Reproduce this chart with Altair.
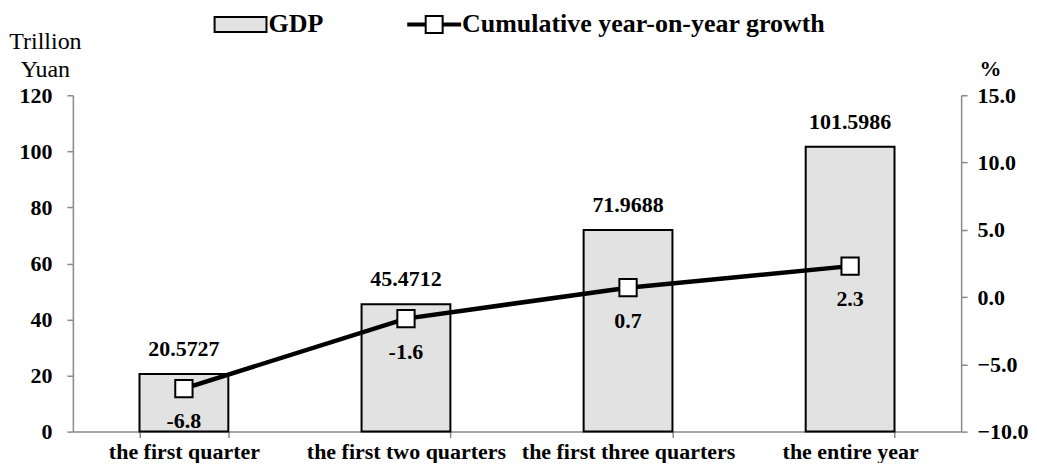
import altair as alt
import pandas as pd

periods = ["the first quarter", "the first two quarters", "the first three quarters", "the entire year"]
gdp = [20.5727, 45.4712, 71.9688, 101.5986]
growth = [-6.8, -1.6, 0.7, 2.3]
gdp_labels = ["20.5727", "45.4712", "71.9688", "101.5986"]
growth_labels = ["-6.8", "-1.6", "0.7", "2.3"]
series = ["GDP", "Cumulative year-on-year growth"]
left_ticks = [0, 20, 40, 60, 80, 100, 120]
right_ticks = [-10, -5, 0, 5, 10, 15]

df = pd.DataFrame({"period": periods, "gdp": gdp, "growth": growth,
                   "gdp_label": gdp_labels, "growth_label": growth_labels})
legend_df = pd.DataFrame({"series": series})

FONT = "Liberation Serif"
AX = "#8a8a8a"
BAR_FILL = "#e2e2e2"

# legend symbol paths
GDP_PATH = "M-1,-1.875H12V1.875H-1Z"
LINE_PATH = ("M-1,-0.25H3.375V0.25H-1Z M7.625,-0.25H12V0.25H7.625Z "
             "M3.375,-2.125H7.625V2.125H3.375Z")

x_enc = alt.X(
    "period:N", sort=periods, title=None,
    scale=alt.Scale(paddingInner=0.6, paddingOuter=0.3),
    axis=alt.Axis(tickBand="extent", labelAngle=0, labelFont=FONT, labelFontSize=22,
                  labelFontWeight="bold", labelColor="black", labelPadding=4, tickSize=6,
                  domainColor=AX, tickColor=AX, domainWidth=1.5, tickWidth=1.5,
                  labelOverlap=False, labelBound=False, labelLimit=400),
)

y_left = alt.Y(
    "gdp:Q", scale=alt.Scale(domain=[0, 120], nice=False, zero=True),
    axis=alt.Axis(values=left_ticks, title=["Trillion", "Yuan"], titleAngle=0,
                  titleAlign="center", titleX=-28, titleY=-47, titleBaseline="alphabetic",
                  titleFont=FONT, titleFontSize=24, titleFontWeight="normal",
                  titleLineHeight=28, titleColor="black",
                  labelFont=FONT, labelFontSize=22, labelFontWeight="bold", labelColor="black",
                  labelPadding=15, tickSize=6, grid=False, domainColor=AX, tickColor=AX,
                  domainWidth=1.5, tickWidth=1.5),
)

bars = alt.Chart(df).mark_bar(fill=BAR_FILL, stroke="black", strokeWidth=2).encode(
    x=x_enc, y=y_left)
bar_text = alt.Chart(df).mark_text(font=FONT, fontSize=22, fontWeight="bold", color="black",
                                   baseline="alphabetic", dy=-18).encode(
    x=alt.X("period:N", sort=periods), y=alt.Y("gdp:Q"), text="gdp_label:N")

left_group = alt.layer(bars, bar_text)

y_right = alt.Y(
    "growth:Q", scale=alt.Scale(domain=[-10, 15], nice=False, zero=False),
    axis=alt.Axis(orient="right", values=right_ticks, format=".1f", title="%", titleAngle=0,
                  titleAlign="center", titleX=29, titleY=-20, titleBaseline="alphabetic",
                  titleFont=FONT, titleFontSize=22, titleFontWeight="bold", titleColor="black",
                  labelFont=FONT, labelFontSize=22, labelFontWeight="bold", labelColor="black",
                  labelPadding=10, tickSize=6, grid=False, domainColor=AX, tickColor=AX,
                  domainWidth=1.5, tickWidth=1.5),
)

line = alt.Chart(df).mark_line(color="black", strokeWidth=4.5).encode(
    x=alt.X("period:N", sort=periods), y=y_right)
points = alt.Chart(df).mark_point(shape="square", size=300, filled=True, fill="white",
                                  stroke="black", strokeWidth=2, opacity=1).encode(
    x=alt.X("period:N", sort=periods), y=alt.Y("growth:Q"))
growth_text = alt.Chart(df).mark_text(font=FONT, fontSize=22, fontWeight="bold", color="black",
                                      baseline="middle", dy=33).encode(
    x=alt.X("period:N", sort=periods), y=alt.Y("growth:Q"), text="growth_label:N")

leg = alt.Legend(orient="none", legendX=133, legendY=-84, direction="horizontal", columns=2,
                 title=None, symbolSize=64, symbolStrokeColor="black", symbolStrokeWidth=2,
                 symbolOpacity=1, labelFont=FONT, labelFontSize=26, labelFontWeight="bold",
                 labelColor="black", labelOffset=37, columnPadding=76, labelLimit=600)

legend_layer = alt.Chart(legend_df).mark_point(filled=True, strokeWidth=2).encode(
    shape=alt.Shape("series:N", sort=series,
                    scale=alt.Scale(domain=series, range=[GDP_PATH, LINE_PATH]), legend=leg),
    fill=alt.Fill("series:N", sort=series,
                  scale=alt.Scale(domain=series, range=[BAR_FILL, "white"]), legend=leg),
    stroke=alt.Stroke("series:N", sort=series,
                      scale=alt.Scale(domain=series, range=["black", "black"]), legend=leg),
).transform_filter("false")

right_group = alt.layer(line, points, growth_text, legend_layer)

chart = alt.layer(left_group, right_group).resolve_scale(y="independent").properties(
    width=890, height=337, padding={"left": 0, "top": 3, "right": 0, "bottom": 0}
).configure_view(stroke=None)

chart.save("out.html", embed_options={"renderer": "svg", "actions": False})
